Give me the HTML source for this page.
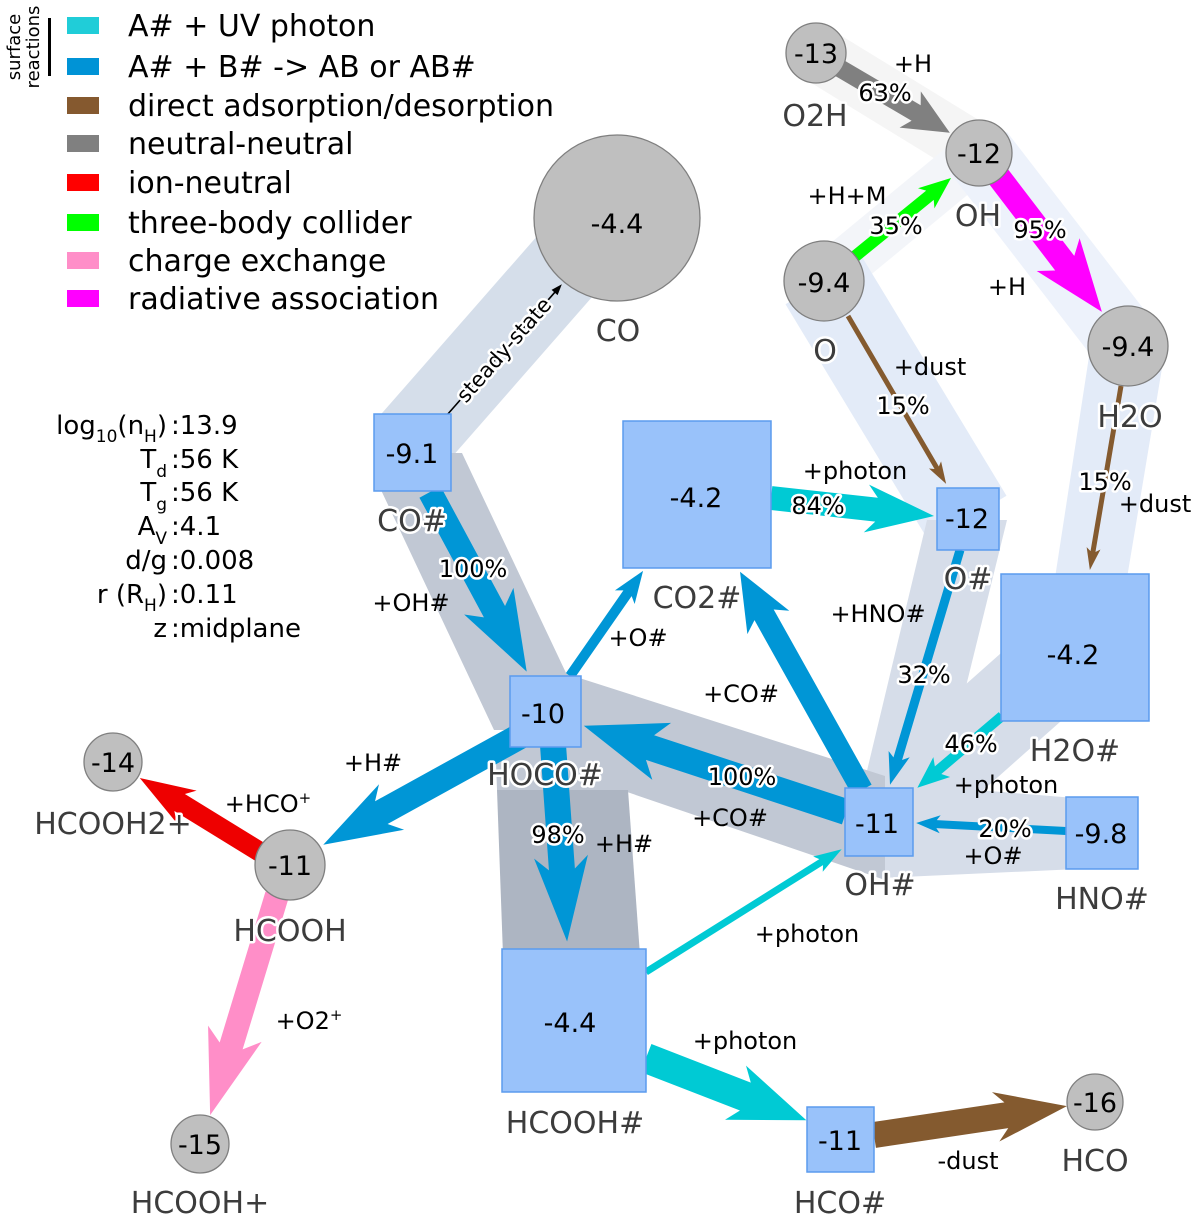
<!DOCTYPE html>
<html>
<head>
<meta charset="utf-8">
<style>
html,body{margin:0;padding:0;background:#fff;}
svg{display:block;}
.h{paint-order:stroke;stroke:#fff;stroke-width:5px;stroke-linejoin:round;}
.sp{fill:#3c3c3c;font-size:30px;text-anchor:middle;}
.nv{fill:#000;font-size:27px;text-anchor:middle;}
.el{fill:#000;font-size:24px;text-anchor:middle;}
.lg{fill:#000;font-size:30px;}
.pm{fill:#000;font-size:26px;}
</style>
</head>
<body>
<svg width="1200" height="1220" viewBox="0 0 1200 1220" xmlns="http://www.w3.org/2000/svg" font-family="'DejaVu Sans','Liberation Sans',sans-serif">
<rect width="1200" height="1220" fill="#fff"/>

<!-- ===== flow bands ===== -->
<polygon fill="#f5f5f5" points="830.6,29.1 993.6,129.1 964.4,176.9 801.4,76.9"/>
<polygon fill="#f3f5f9" points="839.9,300.3 994.9,172.3 963.1,133.7 808.1,261.7"/>
<polygon fill="#edf2fb" points="1007,132 1156,325 1100,367 951,174"/>
<polygon fill="#e3ebf8" points="862.5,257.7 1006.5,495.7 929.5,542.3 785.5,304.3"/>
<polygon fill="#e3ebf8" points="1090,350 1165,350 1127,578 1055,578"/>
<polygon fill="#d5deea" points="581,186 642,240 437,474 376,420"/>
<polygon fill="#d6dde9" points="927,520 1007,520 938,800 860,800"/>
<polygon fill="#d6dde9" points="1105,682 1045,614 849,788 909,856"/>
<polygon fill="#d6dde9" points="890,783 1100,800 1100,868 880,878"/>
<polygon fill="#c1c8d4" points="545,667 885,776 885,880 545,764"/>
<polygon fill="#c1c8d4" points="374,453 462,453 593,730 494,730 381,490 374,490"/>
<polygon fill="#c1c8d4" points="495,735 625,735 628,790 497,790"/>
<polygon fill="#adb5c2" points="497,790 628,790 640,955 503,955"/>

<!-- ===== arrows ===== -->
<g fill="#0096d6">
<polygon transform="translate(430,492) rotate(61.7)" points="0,-12 136,-12 124,-28 204,0 124,28 136,12 0,12"/>
<polygon transform="translate(570,676) rotate(-55.2)" points="0,-5 100.8,-5 96,-12 128,0 96,12 100.8,5 0,5"/>
<polygon transform="translate(862,790) rotate(-119.2)" points="0,-11 200.7,-11 192,-24 250,0 192,24 200.7,11 0,11"/>
<polygon transform="translate(846,812) rotate(198.2)" points="0,-13 206.3,-13 194,-30 276,0 194,30 206.3,13 0,13"/>
<polygon transform="translate(553,745) rotate(85.9)" points="0,-13 124.75,-13 112,-27 197,0 112,27 124.75,13 0,13"/>
<polygon transform="translate(522,735) rotate(151.1)" points="0,-13 160.7,-13 149,-26 227,0 149,26 160.7,13 0,13"/>
<polygon transform="translate(960,550) rotate(106.6)" points="0,-4.5 217.8,-4.5 213,-11 245,0 213,11 217.8,4.5 0,4.5"/>
<polygon transform="translate(1066,831) rotate(183.05)" points="0,-4 129.6,-4 126,-9 150,0 126,9 129.6,4 0,4"/>
</g>
<polygon fill="#ee0000" transform="translate(265,855) rotate(211.6)" points="0,-10 100.25,-10 92,-19 147,0 92,19 100.25,10 0,10"/>
<polygon fill="#ff8ec8" transform="translate(277,895) rotate(106.9)" points="0,-12 157.75,-12 145,-28 230,0 145,28 157.75,12 0,12"/>
<g fill="#00cad4">
<polygon transform="translate(646,972) rotate(-32.1)" points="0,-3.5 206.8,-3.5 203,-9 231,0 203,9 206.8,3.5 0,3.5"/>
<polygon transform="translate(646,1058) rotate(21.2)" points="0,-15 106.6,-15 96,-29 172,0 96,29 106.6,15 0,15"/>
<polygon transform="translate(771,498) rotate(6.3)" points="0,-12 106.2,-12 96,-24 164,0 96,24 106.2,12 0,12"/>
<polygon transform="translate(1002,716) rotate(139.7)" points="0,-5 83.8,-5 79,-13 111,0 79,13 83.8,5 0,5"/>
</g>
<g fill="#845a2f">
<polygon transform="translate(874,1135) rotate(-8.5)" points="0,-13 133.8,-13 123,-25 195,0 123,25 133.8,13 0,13"/>
<polygon transform="translate(848,316) rotate(59.7)" points="0,-2.5 175.8,-2.5 172.5,-7 194.5,0 172.5,7 175.8,2.5 0,2.5"/>
<polygon transform="translate(1121,386) rotate(99.6)" points="0,-2.5 167.9,-2.5 164.6,-7 186.6,0 164.6,7 167.9,2.5 0,2.5"/>
</g>
<polygon fill="#808080" transform="translate(836,66) rotate(30.4)" points="0,-9 92.9,-9 86,-21 132,0 86,21 92.9,9 0,9"/>
<polygon fill="#00ff00" transform="translate(853,258) rotate(-39.2)" points="0,-6 99.3,-6 94.5,-13 126.5,0 94.5,13 99.3,6 0,6"/>
<polygon fill="#ff00ff" transform="translate(995,172) rotate(52.6)" points="0,-12 114.8,-12 104,-27 176,0 104,27 114.8,12 0,12"/>

<!-- steady-state connector -->
<g transform="translate(447,415) rotate(-48.7)">
<line x1="0" y1="0" x2="166" y2="0" stroke="#000" stroke-width="1.6"/>
<polygon fill="#000" points="163,-4 174,0 163,4"/>
</g>
<text class="h" transform="translate(504,350) rotate(-48.7)" text-anchor="middle" dominant-baseline="central" font-size="21" fill="#000">steady-state</text>

<!-- ===== nodes ===== -->
<g fill="#bfbfbf" stroke="#7f7f7f" stroke-width="1.3">
<circle cx="617" cy="218" r="83"/>
<circle cx="816" cy="53" r="30"/>
<circle cx="979" cy="153" r="33"/>
<circle cx="824" cy="281" r="40"/>
<circle cx="1128" cy="346" r="40"/>
<circle cx="113" cy="762" r="29"/>
<circle cx="290" cy="865" r="35"/>
<circle cx="200" cy="1144" r="29"/>
<circle cx="1095" cy="1102" r="28"/>
</g>
<g fill="#99c2fa" stroke="#5b9bee" stroke-width="1.5">
<rect x="374" y="414" width="77" height="77"/>
<rect x="623" y="421" width="148" height="147"/>
<rect x="510" y="676" width="71" height="71"/>
<rect x="937" y="488" width="62" height="62"/>
<rect x="1001" y="574" width="148" height="147"/>
<rect x="845" y="788" width="68" height="68"/>
<rect x="1066" y="797" width="72" height="72"/>
<rect x="502" y="949" width="144" height="143"/>
<rect x="807" y="1107" width="67" height="65"/>
</g>

<!-- ===== node values ===== -->
<text class="nv" x="617" y="233">-4.4</text>
<text class="nv" x="816" y="63">-13</text>
<text class="nv" x="979" y="163">-12</text>
<text class="nv" x="824" y="292">-9.4</text>
<text class="nv" x="1128" y="356">-9.4</text>
<text class="nv" x="412" y="463">-9.1</text>
<text class="nv" x="696" y="507">-4.2</text>
<text class="nv" x="967" y="528">-12</text>
<text class="nv" x="1073" y="664">-4.2</text>
<text class="nv" x="543" y="723">-10</text>
<text class="nv" x="877" y="833">-11</text>
<text class="nv" x="1101" y="843">-9.8</text>
<text class="nv" x="113" y="772">-14</text>
<text class="nv" x="290" y="875">-11</text>
<text class="nv" x="200" y="1154">-15</text>
<text class="nv" x="570" y="1032">-4.4</text>
<text class="nv" x="840" y="1150">-11</text>
<text class="nv" x="1095" y="1112">-16</text>

<!-- ===== species labels ===== -->
<g class="sp">
<text class="h" x="618" y="341">CO</text>
<text class="h" x="815" y="126">O2H</text>
<text class="h" x="978" y="226">OH</text>
<text class="h" x="825" y="361">O</text>
<text class="h" x="1130" y="427">H2O</text>
<text class="h" x="412" y="531">CO#</text>
<text class="h" x="697" y="608">CO2#</text>
<text class="h" x="968" y="589">O#</text>
<text class="h" x="1075" y="761">H2O#</text>
<text class="h" x="545" y="785">HOCO#</text>
<text class="h" x="880" y="895">OH#</text>
<text class="h" x="1102" y="909">HNO#</text>
<text class="h" x="113" y="834">HCOOH2+</text>
<text class="h" x="290" y="941">HCOOH</text>
<text class="h" x="200" y="1213">HCOOH+</text>
<text class="h" x="575" y="1133">HCOOH#</text>
<text class="h" x="840" y="1213">HCO#</text>
<text class="h" x="1095" y="1171">HCO</text>
</g>

<!-- ===== edge labels ===== -->
<g class="el">
<text x="913" y="72">+H</text>
<text class="h" x="885" y="101">63%</text>
<text x="847" y="204">+H+M</text>
<text class="h" x="896" y="234">35%</text>
<text class="h" x="1040" y="238">95%</text>
<text x="1007" y="295">+H</text>
<text x="930" y="375">+dust</text>
<text class="h" x="903" y="414">15%</text>
<text class="h" x="1105" y="490">15%</text>
<text x="1155" y="512">+dust</text>
<text x="855" y="479">+photon</text>
<text class="h" x="818" y="514">84%</text>
<text x="878" y="622">+HNO#</text>
<text class="h" x="924" y="683">32%</text>
<text class="h" x="971" y="752">46%</text>
<text x="1006" y="793">+photon</text>
<text class="h" x="1005" y="837">20%</text>
<text x="993" y="864">+O#</text>
<text class="h" x="473" y="577">100%</text>
<text x="411" y="611">+OH#</text>
<text x="638" y="646">+O#</text>
<text x="741" y="702">+CO#</text>
<text class="h" x="742" y="785">100%</text>
<text x="730" y="826">+CO#</text>
<text x="373" y="771">+H#</text>
<text class="h" x="558" y="843">98%</text>
<text x="624" y="852">+H#</text>
<text x="268" y="812">+HCO<tspan font-size="15" dy="-9">+</tspan></text>
<text x="309" y="1029">+O2<tspan font-size="15" dy="-9">+</tspan></text>
<text x="807" y="942">+photon</text>
<text x="745" y="1049">+photon</text>
<text x="968" y="1169">-dust</text>
</g>

<!-- ===== legend ===== -->
<rect x="48" y="18" width="3" height="58" fill="#000"/>
<text transform="translate(20,47) rotate(-90)" text-anchor="middle" font-size="18" fill="#000">surface</text>
<text transform="translate(39,47) rotate(-90)" text-anchor="middle" font-size="18" fill="#000">reactions</text>
<rect x="67" y="17" width="32" height="17" fill="#20cdd8"/>
<rect x="67" y="58" width="32" height="17" fill="#0093d6"/>
<rect x="67" y="97" width="32" height="17" fill="#85592f"/>
<rect x="67" y="135" width="32" height="17" fill="#808080"/>
<rect x="67" y="174" width="32" height="17" fill="#ff0000"/>
<rect x="67" y="214" width="32" height="17" fill="#00ff00"/>
<rect x="67" y="252" width="32" height="17" fill="#ff8ec8"/>
<rect x="67" y="290" width="32" height="17" fill="#ff00ff"/>
<text class="lg" x="128" y="36">A# + UV photon</text>
<text class="lg" x="128" y="77">A# + B# -&gt; AB or AB#</text>
<text class="lg" x="128" y="116">direct adsorption/desorption</text>
<text class="lg" x="128" y="154">neutral-neutral</text>
<text class="lg" x="128" y="193">ion-neutral</text>
<text class="lg" x="128" y="233">three-body collider</text>
<text class="lg" x="128" y="271">charge exchange</text>
<text class="lg" x="128" y="309">radiative association</text>

<!-- ===== parameters ===== -->
<g class="pm">
<text x="167" y="434" text-anchor="end">log<tspan font-size="17" dy="8">10</tspan><tspan dy="-8">(n</tspan><tspan font-size="17" dy="8">H</tspan><tspan dy="-8">)</tspan></text>
<text x="171" y="434">:13.9</text>
<text x="167" y="468" text-anchor="end">T<tspan font-size="17" dy="9">d</tspan></text>
<text x="171" y="468">:56 K</text>
<text x="167" y="501" text-anchor="end">T<tspan font-size="17" dy="9">g</tspan></text>
<text x="171" y="501">:56 K</text>
<text x="167" y="535" text-anchor="end">A<tspan font-size="17" dy="9">V</tspan></text>
<text x="171" y="535">:4.1</text>
<text x="167" y="569" text-anchor="end">d/g</text>
<text x="171" y="569">:0.008</text>
<text x="167" y="603" text-anchor="end">r (R<tspan font-size="17" dy="8">H</tspan><tspan dy="-8">)</tspan></text>
<text x="171" y="603">:0.11</text>
<text x="167" y="637" text-anchor="end">z</text>
<text x="171" y="637">:midplane</text>
</g>
</svg>
</body>
</html>
